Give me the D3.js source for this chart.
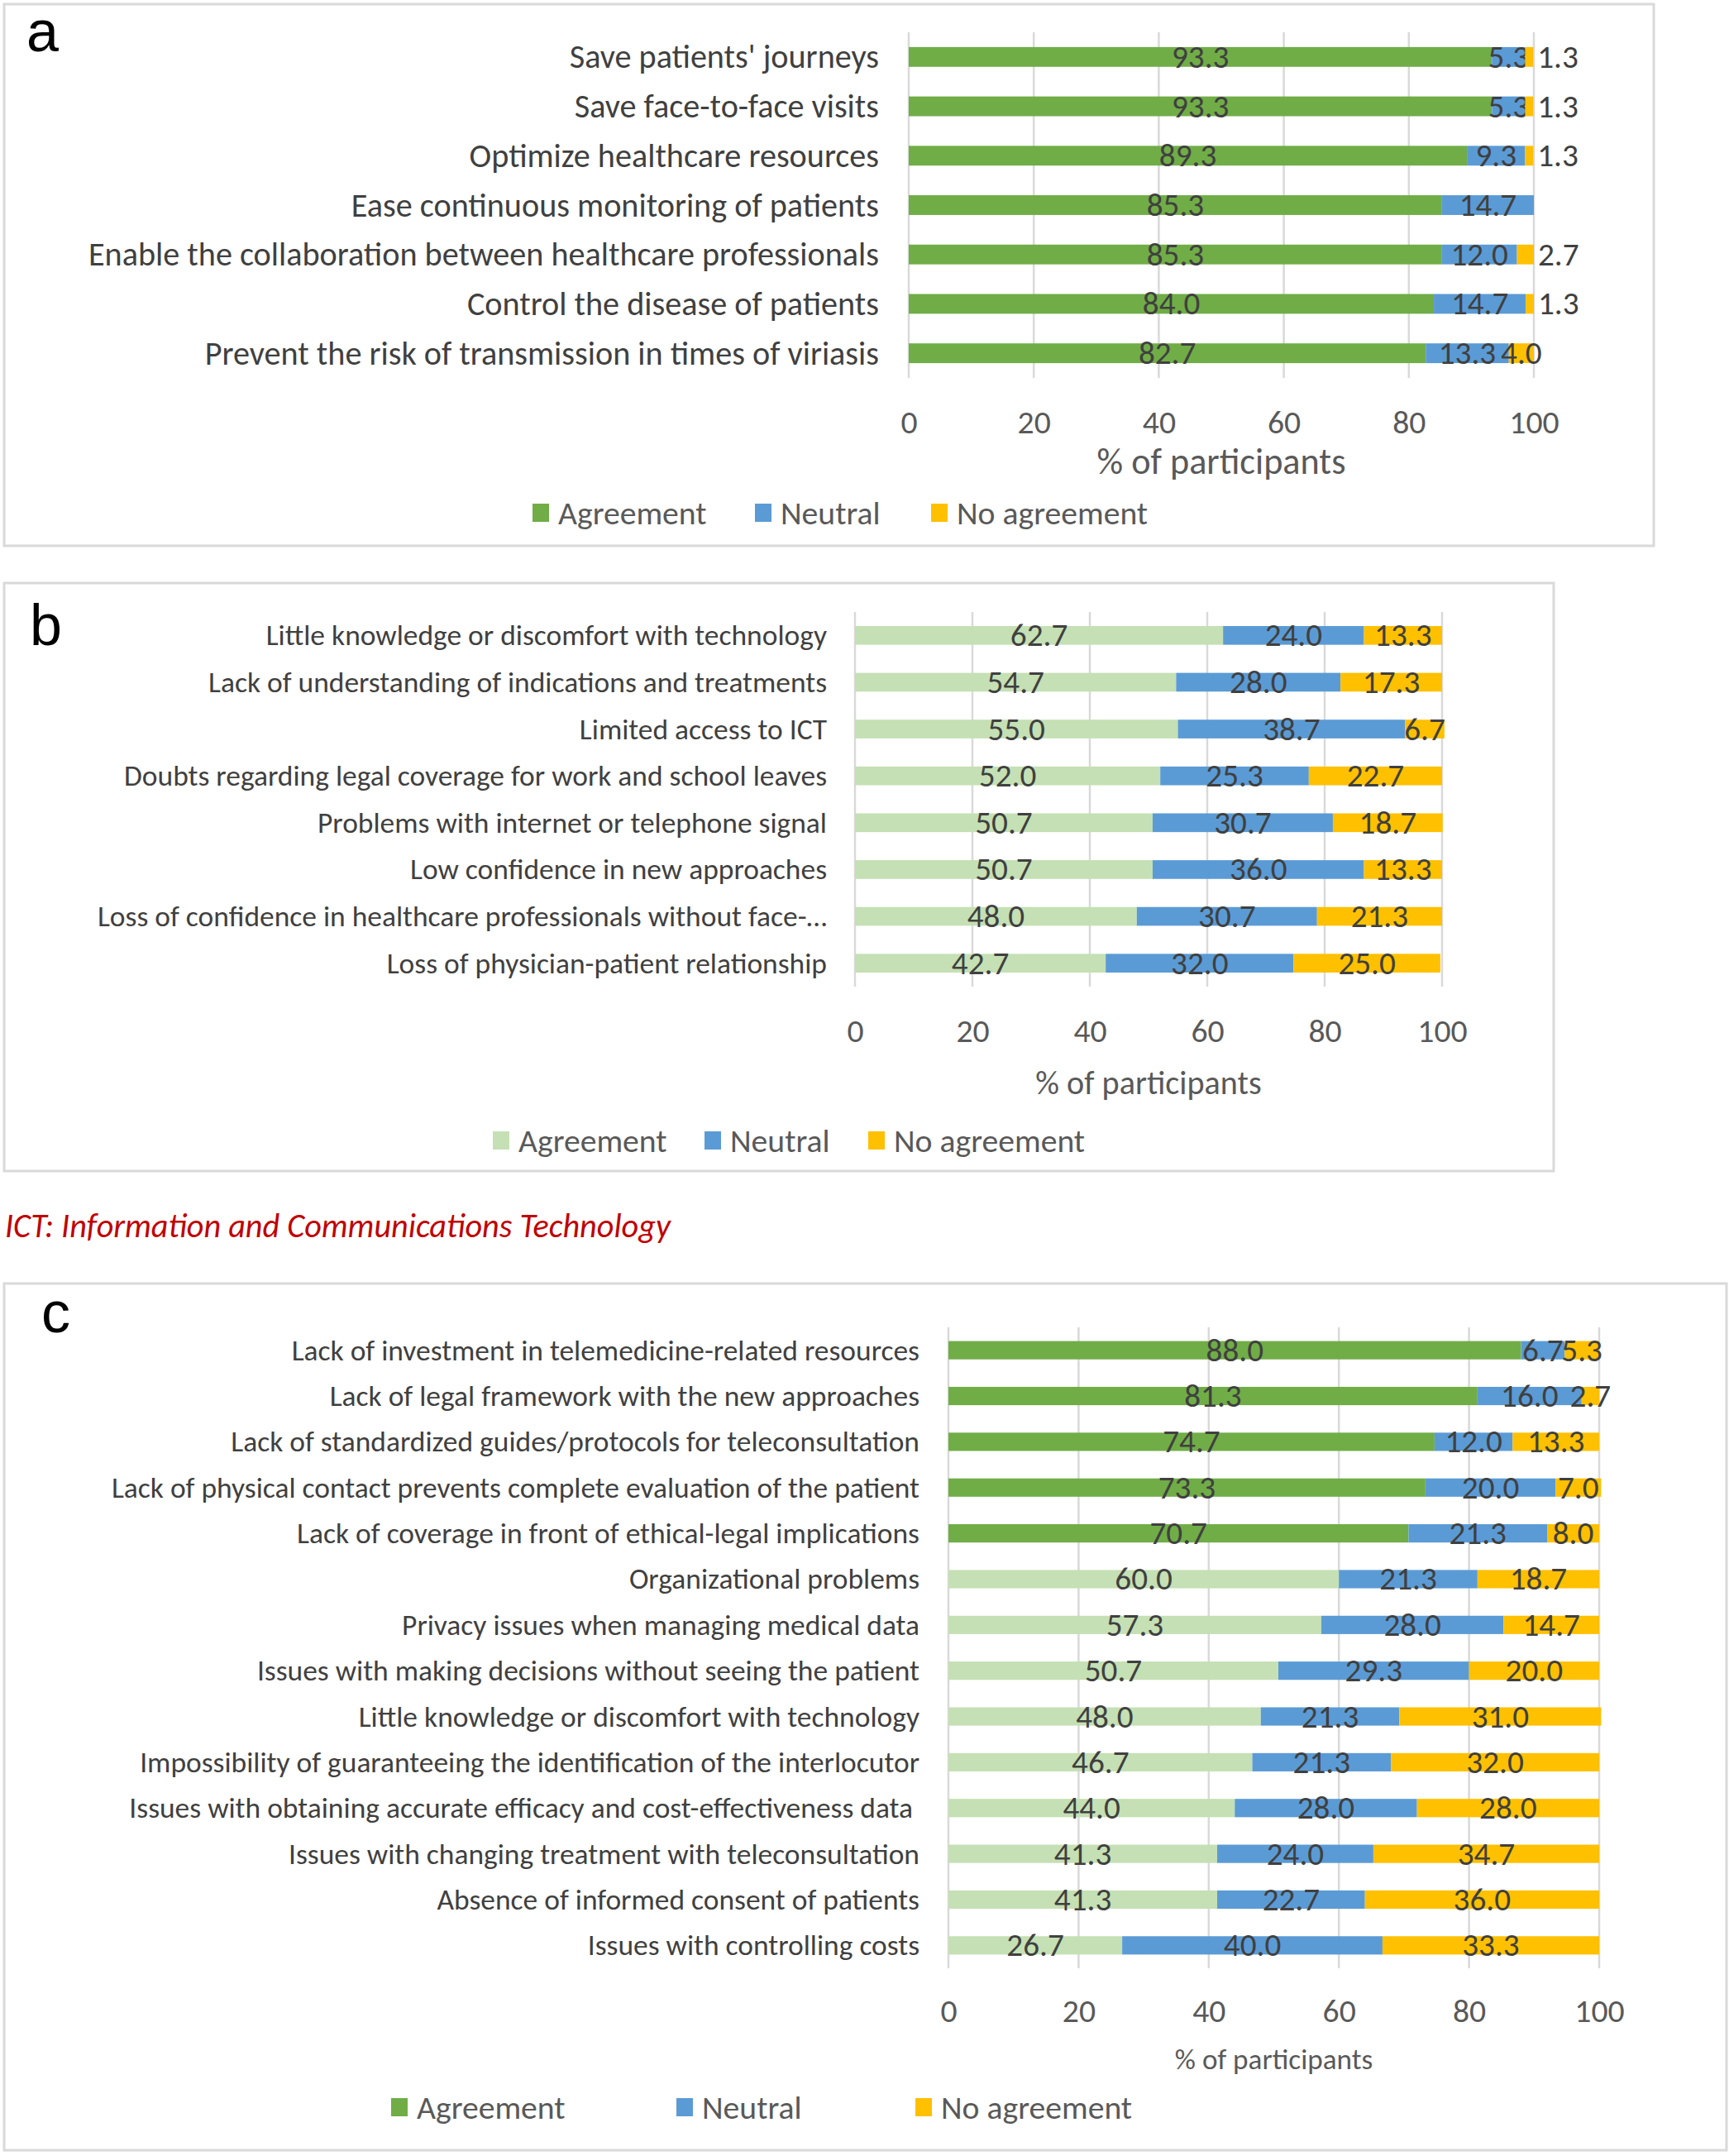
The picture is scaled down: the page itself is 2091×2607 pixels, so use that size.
<!DOCTYPE html>
<html>
<head>
<meta charset="utf-8">
<script src="https://cdn.jsdelivr.net/npm/d3@7"></script>
<style>
  body { margin: 0; background: #fff; }
</style>
</head>
<body>
<div id="chart"></div>
<script>
const seriesNames = ["Agreement", "Neutral", "No agreement"];
const ticks = [0, 20, 40, 60, 80, 100];
const axisTitle = "% of participants";
const footnote = "ICT: Information and Communications Technology";

// panel a
const labelsA = [
    "Save patients' journeys",
    "Save face-to-face visits",
    "Optimize healthcare resources",
    "Ease continuous monitoring of patients",
    "Enable the collaboration between healthcare professionals",
    "Control the disease of patients",
    "Prevent the risk of transmission in times of viriasis"
];
const agreeA = [93.3, 93.3, 89.3, 85.3, 85.3, 84.0, 82.7];
const neutralA = [5.3, 5.3, 9.3, 14.7, 12.0, 14.7, 13.3];
const noAgreeA = [1.3, 1.3, 1.3, 0, 2.7, 1.3, 4.0];

// panel b
const labelsB = [
    "Little knowledge or discomfort with technology",
    "Lack of understanding of indications and treatments",
    "Limited access to ICT",
    "Doubts regarding legal coverage for work and school leaves",
    "Problems with internet or telephone signal",
    "Low confidence in new approaches",
    "Loss of confidence in healthcare professionals without face-\u2026",
    "Loss of physician-patient relationship"
];
const agreeB = [62.7, 54.7, 55.0, 52.0, 50.7, 50.7, 48.0, 42.7];
const neutralB = [24.0, 28.0, 38.7, 25.3, 30.7, 36.0, 30.7, 32.0];
const noAgreeB = [13.3, 17.3, 6.7, 22.7, 18.7, 13.3, 21.3, 25.0];

// panel c (first rows drawn in the strong green)
const labelsC = [
    "Lack of investment in telemedicine-related resources",
    "Lack of legal framework with the new approaches",
    "Lack of standardized guides/protocols for teleconsultation",
    "Lack of physical contact prevents complete evaluation of the patient",
    "Lack of coverage in front of ethical-legal implications",
    "Organizational problems",
    "Privacy issues when managing medical data",
    "Issues with making decisions without seeing the patient",
    "Little knowledge or discomfort with technology",
    "Impossibility of guaranteeing the identification of the interlocutor",
    "Issues with obtaining accurate efficacy and cost-effectiveness data ",
    "Issues with changing treatment with teleconsultation",
    "Absence of informed consent of patients",
    "Issues with controlling costs"
];
const agreeC = [88.0, 81.3, 74.7, 73.3, 70.7, 60.0, 57.3, 50.7, 48.0, 46.7, 44.0, 41.3, 41.3, 26.7];
const neutralC = [6.7, 16.0, 12.0, 20.0, 21.3, 21.3, 28.0, 29.3, 21.3, 21.3, 28.0, 24.0, 22.7, 40.0];
const noAgreeC = [5.3, 2.7, 13.3, 7.0, 8.0, 18.7, 14.7, 20.0, 31.0, 32.0, 28.0, 34.7, 36.0, 33.3];
const strongRowsC = 5;

const GREEN = "#70AD47", LIGHT = "#C5E0B4", BLUE = "#5B9BD5", GOLD = "#FFC000";
const W = 2091, H = 2607;
const FONT = "Carlito, Lato, 'Open Sans', sans-serif";

const svg = d3.select("#chart").append("svg")
    .attr("width", W)
    .attr("height", H);

// sizes below are given for Calibri; scale them so text widths come out the same
const probe = svg.append("text")
    .attr("font-family", FONT)
    .attr("font-size", 100)
    .text("Little knowledge or discomfort with technology");
const k = 1922.2 / probe.node().getComputedTextLength();
probe.remove();
const fs = px => px * k;

const panels = [
    {
        letter: "a", lx: 32, ly: 62, box: [5, 5, 2000, 660],
        x0: 1099, x1: 1855, top: 39, bottom: 457, labelRight: 1063, labelSize: 40,
        tickY: 510, titleSize: 44, titleY: 558, legendY: 620, legendX: [644, 913, 1126],
        labels: labelsA, agree: agreeA, neutral: neutralA, noAgree: noAgreeA,
        agreeColor: () => GREEN, legendGreen: GREEN, outsideSmall: true
    },
    {
        letter: "b", lx: 36, ly: 780, box: [5, 705, 1879, 1416],
        x0: 1034, x1: 1744, top: 740, bottom: 1193, labelRight: 1000, labelSize: 35.3,
        tickY: 1246, titleSize: 40, titleY: 1309, legendY: 1379, legendX: [596, 852, 1050],
        labels: labelsB, agree: agreeB, neutral: neutralB, noAgree: noAgreeB,
        agreeColor: () => LIGHT, legendGreen: LIGHT, outsideSmall: false
    },
    {
        letter: "c", lx: 50, ly: 1611, box: [5, 1552, 2088, 2600],
        x0: 1147, x1: 1934, top: 1605, bottom: 2380, labelRight: 1112, labelSize: 35.3,
        tickY: 2431, titleSize: 35, titleY: 2490, legendY: 2548, legendX: [473, 818, 1107],
        labels: labelsC, agree: agreeC, neutral: neutralC, noAgree: noAgreeC,
        agreeColor: i => i < strongRowsC ? GREEN : LIGHT, legendGreen: GREEN, outsideSmall: false
    }
];

panels.forEach(p => {
    const g = svg.append("g");

    g.append("rect")
        .attr("x", p.box[0]).attr("y", p.box[1])
        .attr("width", p.box[2] - p.box[0])
        .attr("height", p.box[3] - p.box[1])
        .attr("fill", "none")
        .attr("stroke", "#D9D9D9")
        .attr("stroke-width", 3);

    g.append("text")
        .attr("x", p.lx).attr("y", p.ly)
        .attr("font-family", "'Liberation Sans', Arial, sans-serif")
        .attr("font-size", 70)
        .attr("fill", "#000")
        .text(p.letter);

    const rows = p.labels.map((label, i) => ({
        label, idx: i,
        "Agreement": p.agree[i],
        "Neutral": p.neutral[i],
        "No agreement": p.noAgree[i]
    }));

    const x = d3.scaleLinear().domain([0, 100]).range([p.x0, p.x1]);
    const y = d3.scaleBand().domain(p.labels).range([p.top, p.bottom])
        .paddingInner(0.6).paddingOuter(0.3);

    g.selectAll(".grid")
        .data(ticks)
        .join("line")
        .attr("class", "grid")
        .attr("x1", d => x(d)).attr("x2", d => x(d))
        .attr("y1", p.top).attr("y2", p.bottom)
        .attr("stroke", "#D9D9D9")
        .attr("stroke-width", 2.5);

    // category labels
    const yAxis = g.append("g")
        .attr("transform", `translate(${p.labelRight},0)`)
        .call(d3.axisLeft(y).tickSize(0).tickPadding(0));
    yAxis.select(".domain").remove();
    yAxis.selectAll("text")
        .attr("dy", null)
        .attr("dominant-baseline", "central")
        .attr("font-family", FONT)
        .attr("font-size", fs(p.labelSize))
        .attr("fill", "#404040")
        .style("white-space", "pre");

    // tick labels
    const xAxis = g.append("g")
        .attr("transform", `translate(0,${p.tickY})`)
        .call(d3.axisBottom(x).tickValues(ticks).tickSize(0).tickPadding(0));
    xAxis.select(".domain").remove();
    xAxis.selectAll("text")
        .attr("dy", null)
        .attr("dominant-baseline", "central")
        .attr("font-family", FONT)
        .attr("font-size", fs(39.5))
        .attr("fill", "#595959");

    g.append("text")
        .attr("x", (p.x0 + p.x1) / 2)
        .attr("y", p.titleY)
        .attr("text-anchor", "middle")
        .attr("dominant-baseline", "central")
        .attr("font-family", FONT)
        .attr("font-size", fs(p.titleSize))
        .attr("fill", "#595959")
        .text(axisTitle);

    const stacked = d3.stack().keys(seriesNames)(rows);
    const segColor = (key, d) => key === "Agreement" ? p.agreeColor(d.data.idx)
        : key === "Neutral" ? BLUE : GOLD;

    const layers = g.selectAll(".layer")
        .data(stacked)
        .join("g")
        .attr("class", "layer");

    layers.selectAll("rect")
        .data(s => s.map(d => ({ key: s.key, d })))
        .join("rect")
        .attr("x", e => x(e.d[0]))
        .attr("width", e => x(e.d[1]) - x(e.d[0]))
        .attr("y", e => y(e.d.data.label))
        .attr("height", y.bandwidth())
        .attr("fill", e => segColor(e.key, e.d));

    layers.selectAll("text")
        .data(s => s.map(d => ({ key: s.key, d })).filter(e => e.d.data[e.key] > 0))
        .join("text")
        .each(function (e) {
            const v = e.d.data[e.key];
            const outside = p.outsideSmall && e.key === "No agreement" && v < 3;
            d3.select(this)
                .attr("x", outside ? x(e.d[1]) + 5 : (x(e.d[0]) + x(e.d[1])) / 2)
                .attr("text-anchor", outside ? "start" : "middle");
        })
        .attr("y", e => y(e.d.data.label) + y.bandwidth() / 2)
        .attr("dominant-baseline", "central")
        .attr("font-family", FONT)
        .attr("font-size", fs(39))
        .attr("fill", "#404040")
        .text(e => d3.format(".1f")(e.d.data[e.key]));

    // legend
    const legendColors = [p.legendGreen, BLUE, GOLD];
    const leg = g.selectAll(".leg")
        .data(seriesNames)
        .join("g")
        .attr("class", "leg")
        .attr("transform", (d, i) => `translate(${p.legendX[i]},${p.legendY})`);
    leg.append("rect")
        .attr("x", 0).attr("y", -11)
        .attr("width", 20).attr("height", 22)
        .attr("fill", (d, i) => legendColors[i]);
    leg.append("text")
        .attr("x", 31).attr("y", 0)
        .attr("dominant-baseline", "central")
        .attr("font-family", FONT)
        .attr("font-size", fs(39.5))
        .attr("fill", "#595959")
        .text(d => d);
});

svg.append("text")
    .attr("x", 6).attr("y", 1496)
    .attr("font-family", FONT)
    .attr("font-style", "italic")
    .attr("font-size", fs(40))
    .attr("fill", "#C00000")
    .text(footnote);
</script>
</body>
</html>
